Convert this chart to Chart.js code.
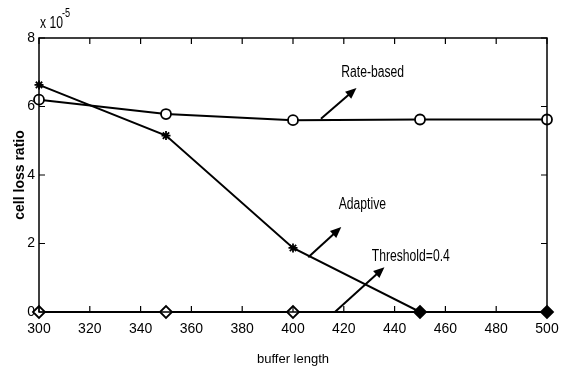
<!DOCTYPE html>
<html>
<head>
<meta charset="utf-8">
<script src="https://cdn.jsdelivr.net/npm/chart.js@4.4.0/dist/chart.umd.min.js"></script>
<style>
  html, body { margin: 0; padding: 0; background: #fff; }
  #wrap { width: 563px; height: 367px; }
</style>
</head>
<body>
<div id="wrap"><canvas id="plotCanvas" width="563" height="367"></canvas></div>
<script>
// --- Data (values in units of 1e-5) ---
const bufferLength = [300, 350, 400, 450, 500];
const rateBased = [6.2, 5.78, 5.6, 5.62, 5.62];
const adaptive = [6.63, 5.15, 1.87, 0, 0];
const threshold04 = [0, 0, 0, 0, 0];
const xTicks = [300, 320, 340, 360, 380, 400, 420, 440, 460, 480, 500];
const yTicks = [0, 2, 4, 6, 8];

// annotation text + arrow (tail -> head), in data coordinates
const notes = [
  { text: "Rate-based", x: 419, y: 6.98, from: [411, 5.64], to: [425, 6.54] },
  { text: "Adaptive", x: 418, y: 3.15, from: [406, 1.6], to: [419, 2.48] },
  { text: "Threshold=0.4", x: 431, y: 1.63, from: [416.5, 0], to: [436, 1.31] }
];

const FONT = "'Liberation Sans', Arial, sans-serif";

// narrow text, like the scanned figure
function narrowText(ctx, str, px, py, size) {
  ctx.save();
  ctx.translate(px, py);
  ctx.scale(0.76, 1);
  ctx.font = size + "px " + FONT;
  ctx.fillText(str, 0, 0);
  ctx.restore();
}

// --- MATLAB-like frame: box, inward ticks, exponent, annotations ---
const matlabFrame = {
  id: "matlabFrame",
  afterDatasetsDraw(chart) {
    const { ctx, chartArea: a, scales: { x, y } } = chart;
    ctx.save();
    ctx.strokeStyle = "#000";
    ctx.lineWidth = 1.5;
    ctx.strokeRect(a.left, a.top, a.right - a.left, a.bottom - a.top);

    ctx.lineWidth = 1.2;
    ctx.beginPath();
    xTicks.forEach(v => {
      const px = x.getPixelForValue(v);
      ctx.moveTo(px, a.bottom); ctx.lineTo(px, a.bottom - 6);
      ctx.moveTo(px, a.top); ctx.lineTo(px, a.top + 6);
    });
    yTicks.forEach(v => {
      const py = y.getPixelForValue(v);
      ctx.moveTo(a.left, py); ctx.lineTo(a.left + 6, py);
      ctx.moveTo(a.right, py); ctx.lineTo(a.right - 6, py);
    });
    ctx.stroke();

    // exponent label
    ctx.fillStyle = "#000";
    ctx.textBaseline = "alphabetic";
    ctx.textAlign = "left";
    narrowText(ctx, "x 10", a.left + 1, a.top - 10, 16);
    narrowText(ctx, "-5", a.left + 23, a.top - 21, 12);

    // annotations
    notes.forEach(n => {
      ctx.textBaseline = "middle";
      narrowText(ctx, n.text, x.getPixelForValue(n.x), y.getPixelForValue(n.y), 16);
      const x0 = x.getPixelForValue(n.from[0]), y0 = y.getPixelForValue(n.from[1]);
      const x1 = x.getPixelForValue(n.to[0]), y1 = y.getPixelForValue(n.to[1]);
      const ang = Math.atan2(y1 - y0, x1 - x0);
      ctx.lineWidth = 2;
      ctx.beginPath();
      ctx.moveTo(x0, y0);
      ctx.lineTo(x1 - 8 * Math.cos(ang), y1 - 8 * Math.sin(ang));
      ctx.stroke();
      ctx.beginPath();
      ctx.moveTo(x1, y1);
      ctx.lineTo(x1 - 12 * Math.cos(ang - 0.4), y1 - 12 * Math.sin(ang - 0.4));
      ctx.lineTo(x1 - 12 * Math.cos(ang + 0.4), y1 - 12 * Math.sin(ang + 0.4));
      ctx.closePath();
      ctx.fill();
    });
    ctx.restore();
  }
};

const ctx = document.getElementById("plotCanvas").getContext("2d");
new Chart(ctx, {
  type: "line",
  data: {
    datasets: [
      {
        label: "Rate-based",
        data: bufferLength.map((b, i) => ({ x: b, y: rateBased[i] })),
        borderColor: "#000",
        backgroundColor: "#fff",
        borderWidth: 2,
        pointStyle: "circle",
        pointRadius: 5,
        pointBorderWidth: 1.8,
        tension: 0
      },
      {
        label: "Adaptive",
        data: bufferLength.map((b, i) => ({ x: b, y: adaptive[i] })),
        borderColor: "#000",
        backgroundColor: "#000",
        borderWidth: 2,
        pointStyle: "star",
        pointRadius: 4.5,
        pointBorderWidth: 1.8,
        tension: 0
      },
      {
        label: "Threshold=0.4",
        data: bufferLength.map((b, i) => ({ x: b, y: threshold04[i] })),
        borderColor: "#000",
        pointBackgroundColor: ["#fff", "#fff", "#fff", "#000", "#000"],
        borderWidth: 2,
        pointStyle: "rectRot",
        pointRadius: 6,
        pointBorderWidth: 1.8,
        tension: 0
      }
    ]
  },
  options: {
    responsive: false,
    animation: false,
    clip: false,
    layout: { padding: { left: 0, top: 38, right: 16, bottom: 0 } },
    plugins: {
      legend: { display: false },
      tooltip: { enabled: false }
    },
    scales: {
      x: {
        type: "linear",
        min: 300,
        max: 500,
        afterBuildTicks: s => { s.ticks = xTicks.map(v => ({ value: v })); },
        afterFit: s => { s.height = 55; s.paddingRight = 0; s.paddingLeft = 0; },
        grid: { display: false, drawTicks: false },
        border: { display: false },
        ticks: {
          color: "#000",
          padding: 9,
          font: { size: 14, family: FONT }
        },
        title: {
          display: true,
          text: "buffer length",
          color: "#000",
          padding: { top: 0, bottom: 0 },
          font: { size: 13, family: FONT }
        }
      },
      y: {
        type: "linear",
        min: 0,
        max: 8,
        afterBuildTicks: s => { s.ticks = yTicks.map(v => ({ value: v })); },
        afterFit: s => { s.width = 39; },
        grid: { display: false, drawTicks: false },
        border: { display: false },
        ticks: {
          color: "#000",
          padding: 4,
          font: { size: 14, family: FONT }
        },
        title: {
          display: true,
          text: "cell loss ratio",
          color: "#000",
          padding: { top: 12, bottom: 0 },
          font: { size: 14, weight: "bold", family: FONT }
        }
      }
    }
  },
  plugins: [matlabFrame]
});
</script>
</body>
</html>
